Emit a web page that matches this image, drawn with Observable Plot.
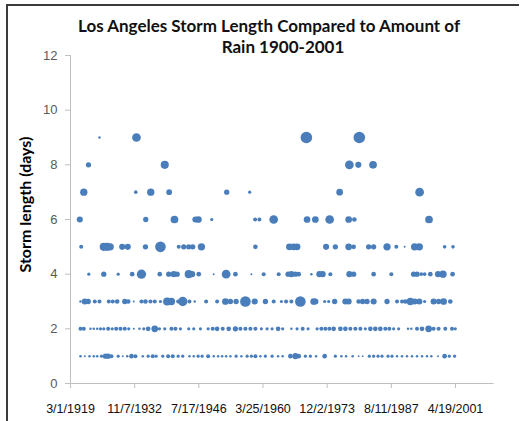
<!DOCTYPE html>
<html><head><meta charset="utf-8">
<script src="https://cdn.jsdelivr.net/npm/d3@7"></script>
<script src="https://cdn.jsdelivr.net/npm/@observablehq/plot@0.6"></script>
<style>
body{margin:0;background:#fff;}
#wrap{position:relative;width:526px;height:421px;overflow:hidden;background:#fff;}
#frame{position:absolute;left:6px;top:4px;width:511px;height:700px;border-left:2px solid #3c3c3c;border-top:2px solid #3c3c3c;}
#chart{position:absolute;left:0;top:0;}
.t{position:absolute;top:0;text-align:center;font:bold 17px Lato, sans-serif;line-height:20px;color:#111;white-space:nowrap;}
</style></head>
<body><div id="wrap"><div id="frame"></div><div id="chart"></div>
<div class="t" id="t1" style="left:0;width:538px;top:16px">Los Angeles Storm Length Compared to Amount of</div>
<div class="t" id="t2" style="left:0;width:566px;top:37px">Rain 1900-2001</div>
</div>
<script>
// Each storm: [Excel date serial, rain (inches)], grouped by storm length (days)
const len1 = [[7779,0.2],[8114,0.12],[8480,0.2],[8815,0.2],[9079,0.2],[9414,0.34],[9726,1.06],[9936,1.06],[10193,0.58],[10715,0.34],[11073,0.12],[11416,0.2],[11751,0.8],[12062,0.58],[12631,0.2],[13051,0.34],[13409,0.58],[13674,0.34],[14188,0.34],[14609,0.58],[14967,0.58],[15388,0.34],[15746,0.34],[16268,0.2],[16603,0.2],[16945,0.34],[17257,0.34],[17724,0.58],[18160,0.2],[18503,0.2],[18815,0.2],[19126,0.2],[19461,0.2],[19905,0.34],[20318,0.2],[20762,0.34],[21096,0.34],[21408,0.58],[21797,0.2],[22187,0.34],[22709,0.34],[23176,0.2],[23534,0.2],[24134,0.8],[24523,1.46],[24780,0.8],[25302,0.34],[25691,0.34],[26135,0.2],[26805,0.8],[27638,0.34],[28106,0.2],[28472,0.2],[28985,0.2],[29452,0.1],[29764,0.1],[30286,0.34],[30621,0.34],[30964,0.34],[31275,0.34],[31743,0.34],[32054,0.34],[32443,0.2],[32833,0.2],[33222,0.2],[33612,0.2],[34001,0.2],[34391,0.2],[34780,0.2],[35115,0.2],[35637,0.12],[36150,0.8],[36516,0.34],[36929,0.34]];
const len2 = [[7779,0.58],[8036,0.58],[8558,0.2],[8815,0.2],[9079,0.2],[9336,0.34],[9593,0.34],[9936,0.58],[10248,0.34],[10559,0.58],[10894,0.58],[11229,0.58],[11540,0.34],[11930,0.12],[12374,0.2],[12709,0.34],[13051,0.8],[13565,1.8],[13931,0.34],[14344,0.34],[14866,0.58],[15177,0.58],[15567,0.34],[16213,0.34],[16603,0.34],[17124,0.34],[17724,0.34],[18082,0.58],[18425,0.8],[18862,0.58],[19328,0.8],[19850,1.06],[20240,0.58],[20629,0.58],[21018,0.58],[21408,0.58],[21875,0.34],[22319,0.34],[22709,0.34],[23176,0.8],[23534,0.34],[24212,0.2],[24656,0.34],[25092,0.58],[25512,0.34],[26213,0.34],[26548,0.58],[26859,0.58],[27171,0.58],[27506,0.8],[28028,0.8],[28417,0.8],[28806,0.58],[29196,0.58],[29585,0.58],[29975,0.34],[30364,0.8],[30753,0.8],[31143,0.8],[31532,0.58],[31844,0.58],[32179,0.34],[32568,0.34],[33300,0.2],[33557,0.2],[34001,0.58],[34391,0.8],[34905,1.8],[35294,0.58],[35684,0.58],[36204,0.58],[36727,0.58],[36984,0.34]];
const len3 = [[7779,0.2],[8114,1.46],[8380,1.06],[8892,0.58],[9259,0.58],[9983,0.58],[10294,0.58],[10637,0.8],[11229,1.06],[11494,0.8],[11930,0.12],[12529,0.58],[12841,0.8],[13230,0.58],[13565,0.58],[14009,0.34],[14531,2.74],[14866,2.18],[15388,0.58],[15746,3.7],[16268,0.58],[16681,0.2],[17568,0.58],[18425,0.58],[19071,1.8],[19461,1.06],[19905,1.06],[20629,5.0],[21353,1.46],[22187,1.06],[22833,0.58],[23433,0.34],[23799,0.58],[24212,0.58],[24912,5.0],[25948,1.8],[26081,1.46],[26805,0.34],[27116,0.34],[27584,1.06],[28417,1.46],[28674,1.46],[29452,0.8],[29764,1.06],[30107,1.06],[30621,1.46],[31665,1.06],[32443,0.58],[32833,0.58],[33090,0.8],[33479,2.18],[33814,1.46],[34180,1.46],[34593,0.34],[35294,1.46],[35684,1.06],[36074,1.8],[36594,0.8]];
const len4 = [[8425,0.34],[9593,1.06],[10715,0.34],[11805,0.8],[12529,3.7],[13954,0.8],[14656,1.06],[15045,1.46],[15310,1.06],[16213,2.74],[16478,1.46],[16992,0.8],[18160,0.12],[19126,3.2],[19850,0.8],[21096,0.12],[22054,0.58],[23222,0.58],[23955,1.06],[24212,1.46],[24523,1.06],[24780,0.8],[25769,0.2],[26392,1.46],[26649,1.46],[27249,0.58],[28729,1.46],[29063,1.06],[30621,0.8],[32000,0.58],[33736,1.06],[34001,1.06],[34336,0.45],[34593,0.45],[35037,0.8],[35637,1.46],[36027,2.18],[36774,0.8]];
const len5 = [[7833,0.58],[9593,2.74],[9858,2.74],[10092,2.18],[11027,1.46],[11462,1.46],[12841,1.06],[14009,5.0],[15434,0.58],[15824,1.06],[16213,1.06],[16525,1.06],[17202,2.18],[21408,0.8],[24056,1.8],[24391,1.8],[24656,1.8],[26914,1.46],[27638,1.06],[28674,1.8],[29063,0.8],[30232,1.06],[30621,1.06],[31665,2.18],[32389,0.58],[33035,0.12],[33814,2.18],[34180,2.18],[36150,0.45],[36805,0.45]];
const len6 = [[7724,1.46],[12864,1.06],[15100,2.45],[16735,1.46],[16968,1.8],[18005,0.34],[21384,0.58],[21719,0.58],[22833,3.2],[25434,1.8],[26081,1.8],[27194,3.2],[28674,1.8],[29118,0.8],[34936,2.45]];
const len7 = [[8036,2.18],[12086,0.45],[13253,2.18],[14687,1.25],[19173,1.06],[20964,0.34],[27973,1.8],[34203,3.2]];
const len8 = [[8402,1.06],[14344,2.74],[28729,3.2],[29429,1.46],[30575,2.45]];
const len9 = [[9259,0.2],[12140,3.2],[25380,6.05],[29507,6.05]];

const yTicks = [0, 2, 4, 6, 8, 10, 12];
const xTickSerials = [7000, 12000, 17000, 22000, 27000, 32000, 37000];
const xDomainSerials = [7000, 40000];

const excelToDate = s => new Date(Date.UTC(1899, 11, 30) + s * 86400000);
const fmt = d => `${d.getUTCMonth() + 1}/${d.getUTCDate()}/${d.getUTCFullYear()}`;

const rows = [[1, len1], [2, len2], [3, len3], [4, len4], [5, len5], [6, len6], [7, len7], [8, len8], [9, len9]];
const data = rows.flatMap(([days, arr]) => arr.map(([s, rain]) => ({date: excelToDate(s), days, rain})));

const chart = Plot.plot({
  width: 526, height: 421,
  marginLeft: 70, marginRight: 32.5, marginTop: 55, marginBottom: 38,
  style: {fontFamily: "'Liberation Sans', Arial, sans-serif", background: "transparent", overflow: "visible"},
  x: {type: "utc", domain: xDomainSerials.map(excelToDate)},
  y: {domain: [0, 12]},
  r: {type: "pow", exponent: 0.45, domain: [0, 6.05], range: [0, 5.8]},
  marks: [
    Plot.ruleX([excelToDate(xDomainSerials[0])], {stroke: "#bfbfbf"}),
    Plot.ruleY([0], {stroke: "#bfbfbf"}),
    Plot.axisY({ticks: yTicks, tickSize: 5, tickPadding: 8, fontSize: 13, stroke: "#bfbfbf", fill: "#595959", label: null}),
    Plot.axisX({ticks: xTickSerials.map(excelToDate), tickFormat: fmt, tickSize: 5, tickPadding: 16, fontSize: 12.5, stroke: "#bfbfbf", fill: "#111", label: null}),
    Plot.dot(data, {x: "date", y: "days", r: "rain", fill: "#4a7ebb", stroke: "none"}),
    Plot.text(["Storm length (days)"], {frameAnchor: "left", textAnchor: "middle", dx: -45, dy: -15, rotate: -90, fontSize: 16, fontWeight: "bold", fill: "#000", fontFamily: "Lato, sans-serif"})
  ]
});
document.getElementById("chart").appendChild(chart);
</script>
</body></html>
